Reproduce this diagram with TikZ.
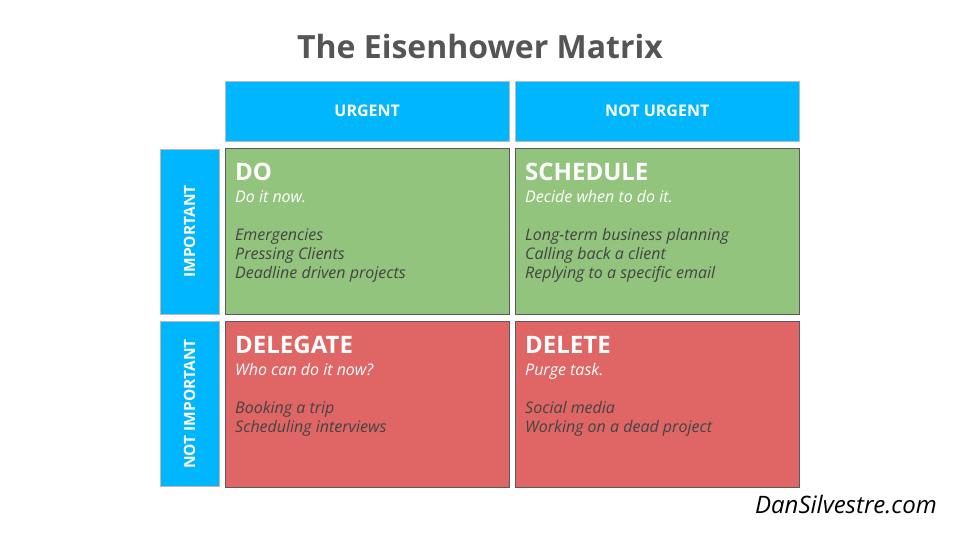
\documentclass[tikz,border=0pt]{standalone}
\usepackage{fontspec}
\setmainfont{Open Sans}
\usetikzlibrary{positioning}

\definecolor{hdrblue}{RGB}{0,182,255}
\definecolor{dogreen}{RGB}{147,196,125}
\definecolor{dropred}{RGB}{224,102,102}
\definecolor{titlegray}{RGB}{85,85,85}
\definecolor{itemgray}{RGB}{67,67,67}
\definecolor{edgegray}{RGB}{90,90,90}

\tikzset{
  maintitle/.style={anchor=base, text=titlegray, font=\fontsize{32}{38}\selectfont\bfseries},
  header/.style={draw=gray!55, fill=hdrblue, text=white, anchor=north west, inner sep=0pt,
    minimum width=284pt, minimum height=60pt, font=\fontsize{16}{19}\selectfont\bfseries},
  sidebar/.style={draw=gray!55, fill=hdrblue, text=white, rotate=90, inner sep=0pt,
    minimum width=165pt, minimum height=59pt, font=\fontsize{15.5}{19}\selectfont\bfseries},
  quad/.style={draw=edgegray, anchor=north west, inner sep=0pt,
    minimum width=284pt, minimum height=166pt},
  quadtitle/.style={anchor=base west, inner sep=0pt, text=white, font=\fontsize{24}{29}\selectfont\bfseries},
  quadsub/.style={anchor=base west, inner sep=0pt, text=white, font=\fontsize{16}{19}\selectfont\itshape},
  item/.style={anchor=base west, inner sep=0pt, text=itemgray, font=\fontsize{16}{19}\selectfont\itshape},
  credit/.style={anchor=base east, inner sep=0pt, font=\fontsize{24}{29}\selectfont\itshape}
}

\begin{document}
\begin{tikzpicture}[x=1pt,y=-1pt]
\useasboundingbox (0,0) rectangle (960,540);

\node[maintitle] (title) at (480,59) {The Eisenhower Matrix};

% column headers
\node[header] (urgent) at (225,81) {URGENT};
\node[header] (noturgent) at (515,81) {NOT URGENT};

% row labels
\node[sidebar] (important) at (189.5,231.5) {IMPORTANT};
\node[sidebar] (notimportant) at (189.5,404) {NOT IMPORTANT};

% quadrants
\node[quad, fill=dogreen] (do) at (225,148) {};
\node[quad, fill=dogreen] (schedule) at (515,148) {};
\node[quad, fill=dropred] (delegate) at (225,321) {};
\node[quad, fill=dropred] (delete) at (515,321) {};

\node[quadtitle] (do title) at (235,180) {DO};
\node[quadsub] (do sub) at (235,202) {Do it now.};
\foreach \txt [count=\i] in {Emergencies, Pressing Clients, Deadline driven projects}
  \node[item] (do item\i) at (235,221+19*\i) {\txt};

\node[quadtitle] (schedule title) at (525,180) {SCHEDULE};
\node[quadsub] (schedule sub) at (525,202) {Decide when to do it.};
\foreach \txt [count=\i] in {Long-term business planning, Calling back a client, Replying to a specific email}
  \node[item] (schedule item\i) at (525,221+19*\i) {\txt};

\node[quadtitle] (delegate title) at (235,353) {DELEGATE};
\node[quadsub] (delegate sub) at (235,375) {Who can do it now?};
\foreach \txt [count=\i] in {Booking a trip, Scheduling interviews}
  \node[item] (delegate item\i) at (235,394+19*\i) {\txt};

\node[quadtitle] (delete title) at (525,353) {DELETE};
\node[quadsub] (delete sub) at (525,375) {Purge task.};
\foreach \txt [count=\i] in {Social media, Working on a dead project}
  \node[item] (delete item\i) at (525,394+19*\i) {\txt};

\node[credit] (site) at (937,513) {DanSilvestre.com};
\end{tikzpicture}
\end{document}
